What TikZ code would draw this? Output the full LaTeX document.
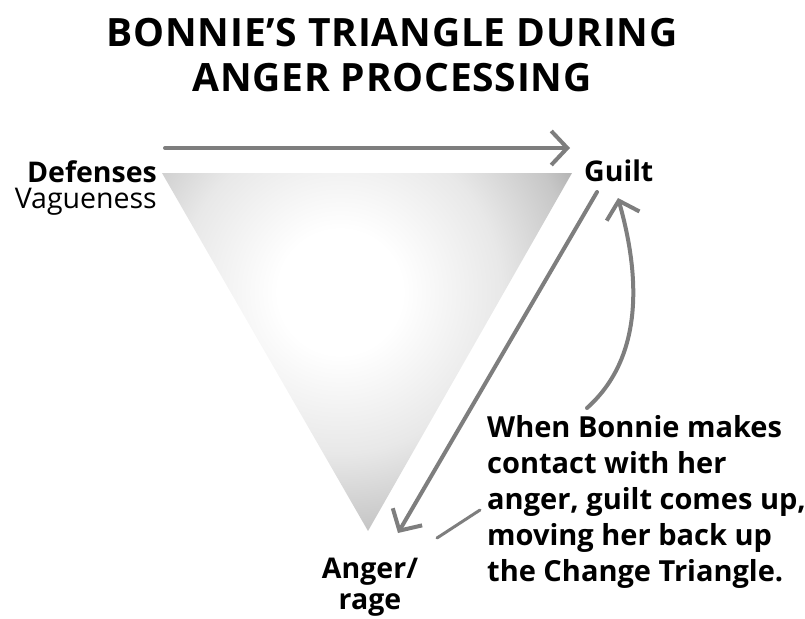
\documentclass[tikz,border=0pt]{standalone}
\usepackage{fontspec}
\setmainfont{Open Sans}
\usetikzlibrary{arrows.meta}

\definecolor{pencil}{HTML}{7E7E7E}
\pgfdeclareradialshading{trishade}{\pgfpoint{0bp}{0bp}}{color(0bp)=(white); color(5bp)=(white); color(13bp)=(black!9); color(19bp)=(black!22); color(25bp)=(black!45); color(50bp)=(black!45)}

\begin{document}
\begin{tikzpicture}[x=1pt,y=-1pt,
	title/.style={font=\fontsize{39}{40}\selectfont\bfseries\addfontfeatures{LetterSpace=2}, inner sep=0pt, anchor=base},
	label/.style={font=\fontsize{28.5}{26}\selectfont\bfseries, inner sep=0pt},
	sketch/.style={draw=pencil, line width=4pt, line cap=round},
	barb/.style={-{Straight Barb[length=16pt,width=34pt]}}]
	\useasboundingbox (0,0) rectangle (805,618);
	% heading
	\node[title] (head1) at (392,46) {BONNIE’S TRIANGLE DURING};
	\node[title] (head2) at (392,91) {ANGER PROCESSING};
	% triangle corners
	\coordinate (tl) at (162,173);
	\coordinate (tr) at (572,173);
	\coordinate (bt) at (368,531);
	\begin{scope}
		\clip (tl) -- (tr) -- (bt) -- cycle;
		\shade[shading=trishade] (340,292) circle (310);
	\end{scope}
	% corner labels
	\node[label, align=right, anchor=north east] (def) at (157,160) {Defenses\\{\mdseries Vagueness}};
	\node[label, anchor=base west] (guilt) at (584,181) {Guilt};
	\node[label, align=center, anchor=north, font=\fontsize{28.5}{31}\selectfont\bfseries] (anger) at (370,558) {Anger/\\rage};
	\node[label, align=left, anchor=north west, font=\fontsize{29}{36}\selectfont\bfseries] (note) at (487,415)
		{When Bonnie makes\\contact with her\\anger, guilt comes up,\\moving her back up\\the Change Triangle.};
	% arrow ends
	\coordinate (defR) at (165,148);
	\coordinate (guiltL) at (570,148);
	\coordinate (guiltA) at (597,192);
	\coordinate (angerTip) at (398,533);
	\coordinate (noteTop) at (587,408);
	\coordinate (guiltB) at (618,198);
	\coordinate (noteL) at (480,510);
	\coordinate (tipR) at (437,538);
	% arrows
	\draw[sketch, barb] (defR) -- (guiltL);
	\draw[sketch, barb] (guiltA) -- (angerTip);
	\draw[sketch, barb] (noteTop) .. controls (652,350) and (634,255) .. (guiltB);
	\draw[sketch, line width=3pt] (noteL) -- (tipR);
\end{tikzpicture}
\end{document}
